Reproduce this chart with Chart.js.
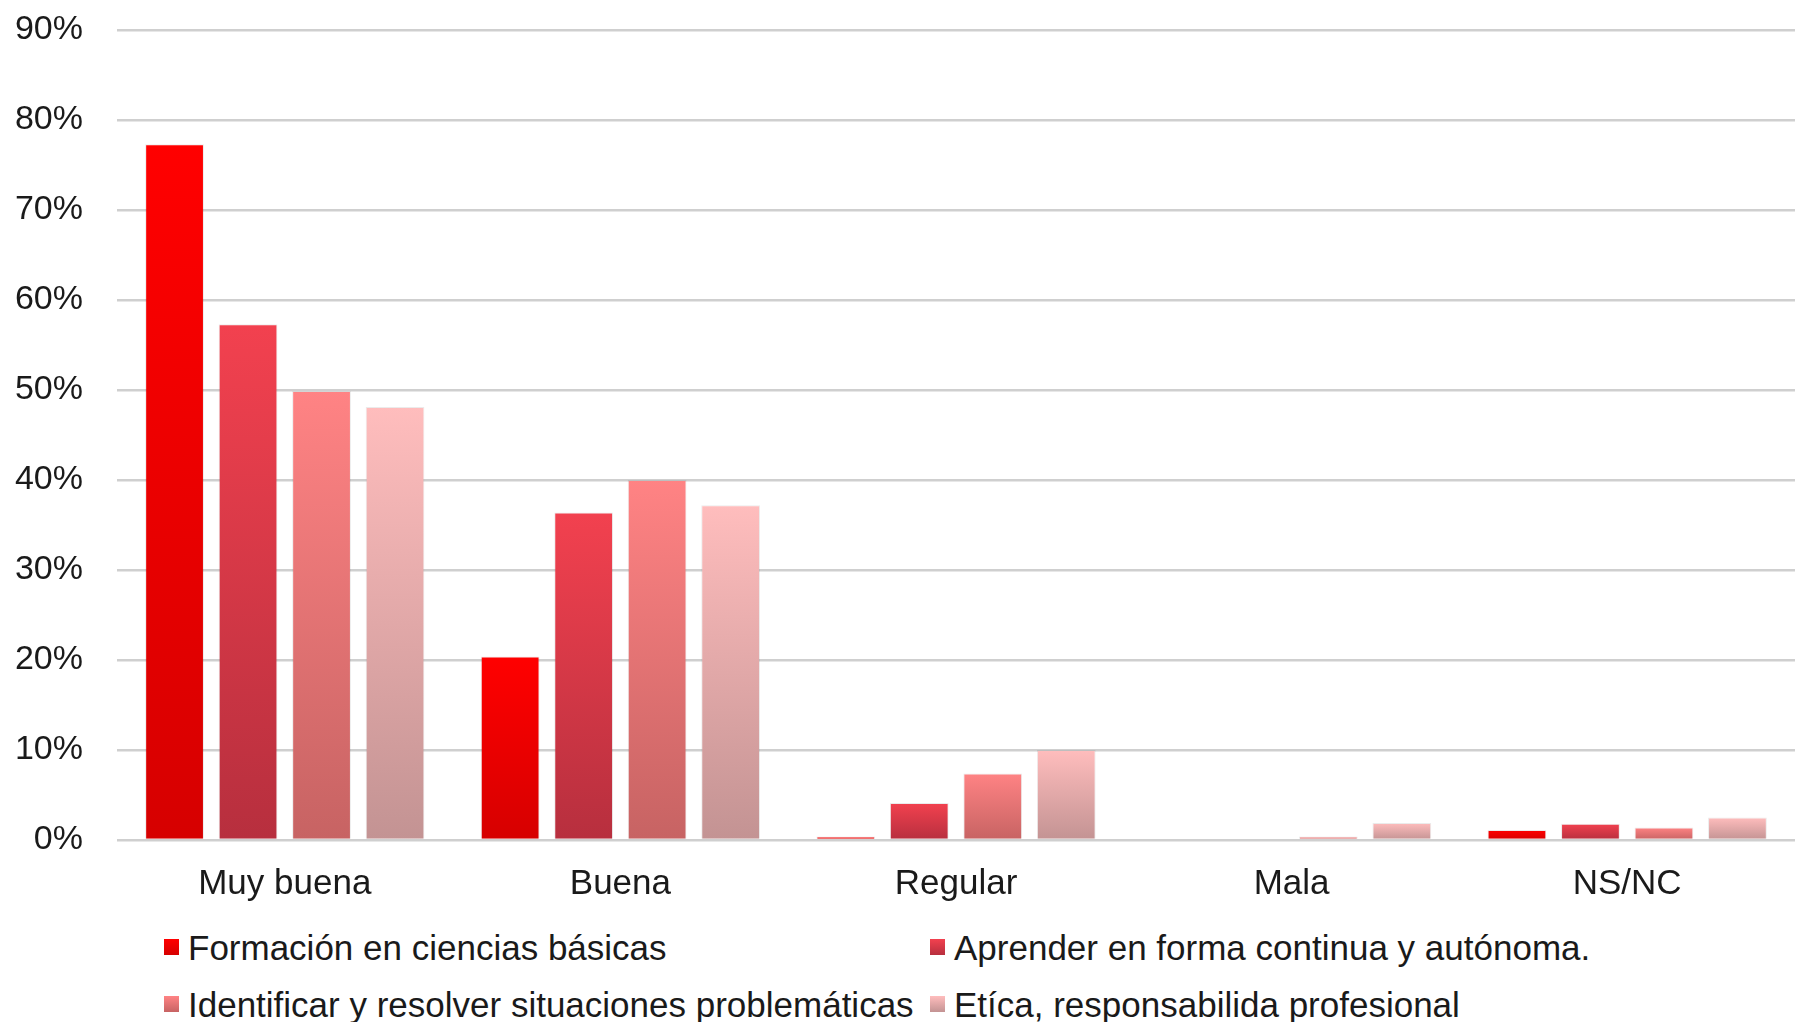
<!DOCTYPE html>
<html>
<head>
<meta charset="utf-8">
<script src="https://cdn.jsdelivr.net/npm/chart.js@4"></script>
<style>
  html, body { margin:0; padding:0; background:#fff; overflow:hidden; }
  body { width:1795px; height:1022px; position:relative; font-family:"Liberation Sans", Arial, sans-serif; }
  #wrap { position:absolute; left:0; top:0; width:1795px; height:928px; }
  .lg { position:absolute; display:flex; align-items:center; font-size:35px; color:#1a1a1a; white-space:nowrap; line-height:1; }
  .lg i { display:inline-block; width:15px; height:16px; margin-right:9px; }
</style>
</head>
<body>
<div id="wrap"><canvas id="chart"></canvas></div>
<div id="legend"></div>
<script>
// ── Data ──
const categories  = ['Muy buena', 'Buena', 'Regular', 'Mala', 'NS/NC'];
const seriesNames = [
  'Formación en ciencias básicas',
  'Aprender en forma continua y autónoma.',
  'Identificar y resolver situaciones problemáticas',
  'Etíca, responsabilida profesional'
];
const formacion   = [77.3, 20.4, 0.4, 0, 1.1];
const aprender    = [57.3, 36.4, 4.1, 0, 1.8];
const identificar = [49.9, 40.0, 7.4, 0.4, 1.4];
const etica       = [48.1, 37.2, 10.0, 1.9, 2.5];
const yTicks      = [0, 10, 20, 30, 40, 50, 60, 70, 80, 90];

// top / bottom colour of each series' gradient
const shades = [
  ['#ff0000', '#d60000'],
  ['#f2414f', '#b72f3e'],
  ['#ff8384', '#c76363'],
  ['#ffbdbd', '#c39393']
];

function barFill(top, bottom) {
  return ctx => {
    const chart = ctx.chart;
    if (!chart.chartArea || ctx.type !== 'data' || !ctx.parsed) return top;
    const ys = chart.scales.y;
    const y0 = ys.getPixelForValue(ctx.parsed.y);
    const y1 = ys.getPixelForValue(0);
    if (y1 - y0 < 1) return bottom;
    const g = chart.ctx.createLinearGradient(0, y0, 0, y1);
    g.addColorStop(0, top);
    g.addColorStop(1, bottom);
    return g;
  };
}

const seriesData = [formacion, aprender, identificar, etica];

new Chart(document.getElementById('chart').getContext('2d'), {
  type: 'bar',
  data: {
    labels: categories,
    datasets: seriesData.map((d, i) => ({
      label: seriesNames[i],
      data: d,
      backgroundColor: barFill(shades[i][0], shades[i][1]),
      borderColor: 'rgba(0,0,0,0.08)',
      borderWidth: 1,
      borderSkipped: 'bottom',
      categoryPercentage: 0.876,
      barPercentage: 0.80
    }))
  },
  options: {
    responsive: true,
    maintainAspectRatio: false,
    animation: false,
    layout: { padding: { top: 30, right: 0, left: 0, bottom: 8 } },
    plugins: { legend: { display: false }, tooltip: { enabled: false } },
    scales: {
      x: {
        grid: { display: false },
        border: { display: false },
        ticks: { color: '#1a1a1a', font: { family: 'Liberation Sans', size: 35 }, padding: 15 }
      },
      y: {
        min: 0, max: 90,
        afterBuildTicks: axis => { axis.ticks = yTicks.map(v => ({ value: v })); },
        afterFit: axis => { axis.width = 117; axis.paddingTop = 0; axis.paddingBottom = 0; },
        border: { display: false },
        grid: { color: '#cfcfcf', lineWidth: 2.5, drawTicks: false },
        ticks: {
          color: '#1a1a1a', padding: 34,
          font: { family: 'Liberation Sans', size: 34 },
          callback: v => v + '%'
        }
      }
    }
  }
});

// ── Legend (two aligned columns, as in the original) ──
const legendPos = [[164, 947], [930, 947], [164, 1004], [930, 1004]];
document.getElementById('legend').innerHTML = seriesNames.map((n, i) => `
  <div class="lg" style="left:${legendPos[i][0]}px;top:${legendPos[i][1] - 17}px;height:34px">
    <i style="background:linear-gradient(${shades[i][0]}, ${shades[i][1]})"></i>${n}
  </div>`).join('');
</script>
</body>
</html>
